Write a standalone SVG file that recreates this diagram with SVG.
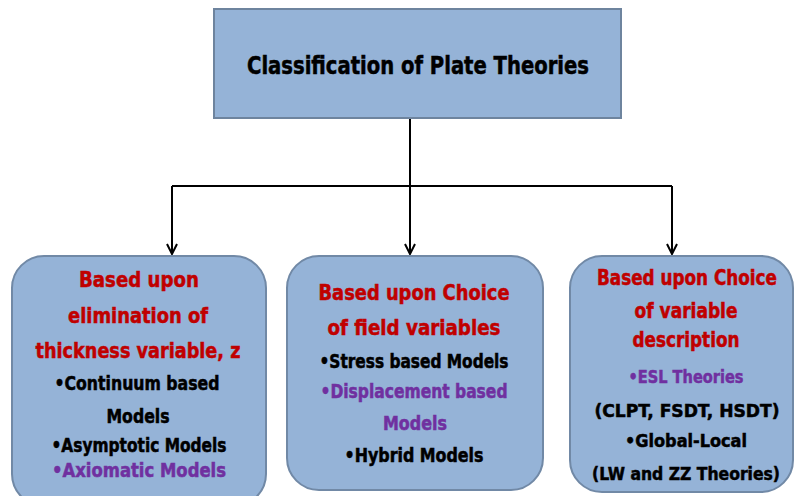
<svg xmlns="http://www.w3.org/2000/svg" width="794" height="496" viewBox="0 0 794 496">
<defs>
<style>
.box{fill:#95b3d7;stroke:#7189a6;stroke-width:2}
text{font-family:"DejaVu Sans Condensed","DejaVu Sans",sans-serif;font-weight:bold;text-anchor:middle;stroke-width:0.5}
.h{font-size:22px;fill:#c00000;stroke:#c00000}
.b{font-size:19px;fill:#000;stroke:#000}
.p{font-size:19px;fill:#7030a0;stroke:#7030a0}
.t{font-size:25px;fill:#000;stroke:#000}
.r.h{font-size:20.5px}
.r.b,.r.p{font-size:18px}
.c{fill:none;stroke:#000;stroke-width:2}
</style>
<marker id="arr" viewBox="0 0 12 12" refX="11" refY="6" markerWidth="12" markerHeight="12" markerUnits="userSpaceOnUse" orient="auto">
<path d="M1,1 L11,6 L1,11" fill="none" stroke="#000" stroke-width="2"/>
</marker>
</defs>
<rect width="794" height="496" fill="#fff"/>
<g id="connectors">
<line class="c" x1="410" y1="118" x2="410" y2="186"/>
<line class="c" x1="172" y1="186" x2="672" y2="186"/>
<path class="c" d="M172,186 V254" marker-end="url(#arr)"/>
<path class="c" d="M410,186 V254" marker-end="url(#arr)"/>
<path class="c" d="M672,186 V254" marker-end="url(#arr)"/>
</g>
<g id="root">
<rect x="214" y="9" width="407" height="109" fill="#95b3d7" stroke="#6e849e" stroke-width="2"/>
<text class="t" x="418" y="74" textLength="342" lengthAdjust="spacingAndGlyphs">Classification of Plate Theories</text>
</g>
<g id="elimination">
<rect class="box" x="12" y="256" width="254" height="250" rx="32"/>
<text class="h" x="139" y="287" textLength="120" lengthAdjust="spacingAndGlyphs">Based upon</text>
<text class="h" x="138" y="323" textLength="140" lengthAdjust="spacingAndGlyphs">elimination of</text>
<text class="h" x="138" y="358" textLength="205" lengthAdjust="spacingAndGlyphs">thickness variable, z</text>
<text class="b" x="137" y="390" textLength="165" lengthAdjust="spacingAndGlyphs">•Continuum based</text>
<text class="b" x="138" y="423" textLength="63" lengthAdjust="spacingAndGlyphs">Models</text>
<text class="b" x="139" y="452" textLength="175" lengthAdjust="spacingAndGlyphs">•Asymptotic Models</text>
<text class="p" x="139" y="477" textLength="174" lengthAdjust="spacingAndGlyphs">•Axiomatic  Models</text>
</g>
<g id="field">
<rect class="box" x="287" y="256" width="256" height="234" rx="32"/>
<text class="h" x="414" y="300" textLength="191" lengthAdjust="spacingAndGlyphs">Based upon Choice</text>
<text class="h" x="414" y="335" textLength="173" lengthAdjust="spacingAndGlyphs">of field variables</text>
<text class="b" x="414" y="368" textLength="189" lengthAdjust="spacingAndGlyphs">•Stress based Models</text>
<text class="p" x="414" y="398" textLength="187" lengthAdjust="spacingAndGlyphs">•Displacement based</text>
<text class="p" x="415" y="430" textLength="64" lengthAdjust="spacingAndGlyphs">Models</text>
<text class="b" x="414" y="462" textLength="139" lengthAdjust="spacingAndGlyphs">•Hybrid Models</text>
</g>
<g id="description">
<rect class="box" x="570" y="256" width="223" height="236" rx="32"/>
<text class="h r" x="687" y="285" textLength="180" lengthAdjust="spacingAndGlyphs">Based upon Choice</text>
<text class="h r" x="686" y="318" textLength="103" lengthAdjust="spacingAndGlyphs">of variable</text>
<text class="h r" x="686" y="347" textLength="107" lengthAdjust="spacingAndGlyphs">description</text>
<text class="p r" x="686" y="383" textLength="115" lengthAdjust="spacingAndGlyphs">•ESL Theories</text>
<text class="b r" x="687" y="417" textLength="185" lengthAdjust="spacingAndGlyphs">(CLPT, FSDT, HSDT)</text>
<text class="b r" x="686" y="447" textLength="122" lengthAdjust="spacingAndGlyphs">•Global-Local</text>
<text class="b r" x="686" y="480" textLength="188" lengthAdjust="spacingAndGlyphs">(LW and ZZ Theories)</text>
</g>
</svg>
